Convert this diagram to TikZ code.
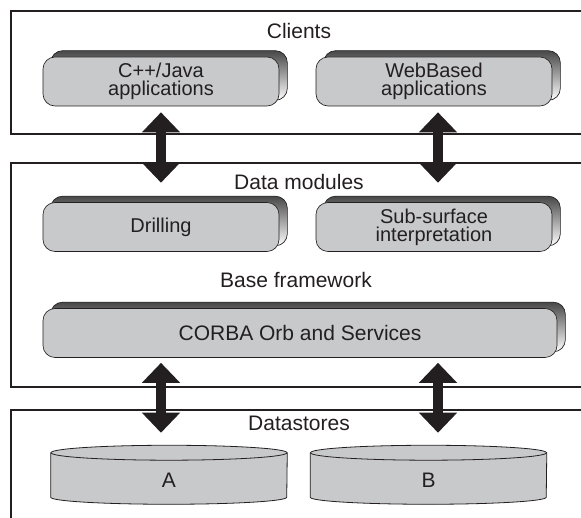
\documentclass[tikz,border=0pt]{standalone}
\usepackage{fontspec}
\setmainfont{Liberation Sans}
\usepackage{tikz}
\usetikzlibrary{arrows.meta, positioning, calc, backgrounds}
\definecolor{inkcolor}{RGB}{35,31,32}
\definecolor{facecolor}{RGB}{200,201,203}

\begin{document}
\begin{tikzpicture}[
    x=0.75pt, y=0.75pt,
    layer/.style={draw=inkcolor, line width=1.5pt},
    layertitle/.style={text=inkcolor, inner sep=0pt, font=\fontsize{15.75}{18}\selectfont},
    module/.style={draw=inkcolor, line width=0.5pt, fill=facecolor, rounded corners=9pt, minimum width=177pt, minimum height=36.75pt, align=center, text=inkcolor, font=\fontsize{15}{13.5}\selectfont},
    modback/.style={draw=inkcolor, line width=0.5pt, rounded corners=9pt, top color=black!72, bottom color=white},
    storebody/.style={minimum width=177pt, minimum height=33pt, inner sep=0pt, text height=18pt, text depth=0pt, text=inkcolor, font=\fontsize{15.75}{18}\selectfont},
    link/.style={{Triangle[width=27.75pt,length=15pt]}-{Triangle[width=27.75pt,length=15pt]}, line width=7.5pt, draw=inkcolor}
]
    \useasboundingbox (0,0) rectangle (581,517);
    \clip (0,0) rectangle (581,517);

    % Layers
    \draw[layer] (11,383) rectangle (587,506);
    \draw[layer] (11,130) rectangle (587,354);
    \draw[layer] (11,-20) rectangle (587,107);

    \node[layertitle] (clients) at (299,486) {Clients};
    \node[layertitle] (datamod) at (299,335) {Data modules};
    \node[layertitle] (basefw) at (296,237) {Base framework};
    \node[layertitle] (datastores) at (299,94) {Datastores};

    % Client modules
    \node[module] (cpp) at (161,435.5) {C++/Java\\applications};
    \node[module] (web) at (434,435.5) {WebBased\\applications};

    % Data modules
    \node[module] (drill) at (161,290) {Drilling};
    \node[module] (sub) at (434,290) {Sub-surface\\interpretation};

    % Base framework
    \node[module, minimum width=385.5pt, font=\fontsize{15.75}{18}\selectfont] (corba) at (300,184) {CORBA Orb and Services};

    % Datastores
    \node[storebody] (storeA) at (169,42) {A};
    \node[storebody] (storeB) at (428.5,42) {B};

    % Back faces of the modules
    \begin{scope}[on background layer]
        \foreach \m in {cpp, web, drill, sub, corba}
            \draw[modback] ($(\m.south west)+(8,6)$) rectangle ($(\m.north east)+(8,6)$);
        \foreach \s in {storeA, storeB} {
            \fill[facecolor] (\s.north west) -- (\s.south west)
                arc[start angle=180, end angle=360, x radius=88.5pt, y radius=5.25pt]
                -- (\s.north east)
                arc[start angle=0, end angle=180, x radius=88.5pt, y radius=5.6pt] -- cycle;
            \draw[inkcolor, line width=0.6pt] (\s.north west) -- (\s.south west)
                arc[start angle=180, end angle=360, x radius=88.5pt, y radius=5.25pt]
                -- (\s.north east);
            \draw[inkcolor, line width=0.6pt] (\s.north) ellipse[x radius=88.5pt, y radius=5.6pt];
        }
    \end{scope}

    % Connections between layers
    \draw[link, shorten <=4.5pt, shorten >=14.6pt] (cpp.south) -- (drill.north);
    \draw[link, shorten <=4.5pt, shorten >=14.6pt] ($(web.south)+(4,0)$) -- ($(sub.north)+(4,0)$);
    \draw[link, shorten <=3.75pt, shorten >=15pt] (cpp.south |- corba.south) -- (cpp.south |- storeA.north);
    \draw[link, shorten <=3.75pt, shorten >=15pt] ($(web.south |- corba.south)+(4,0)$) -- ($(web.south |- storeB.north)+(4,0)$);
\end{tikzpicture}
\end{document}
